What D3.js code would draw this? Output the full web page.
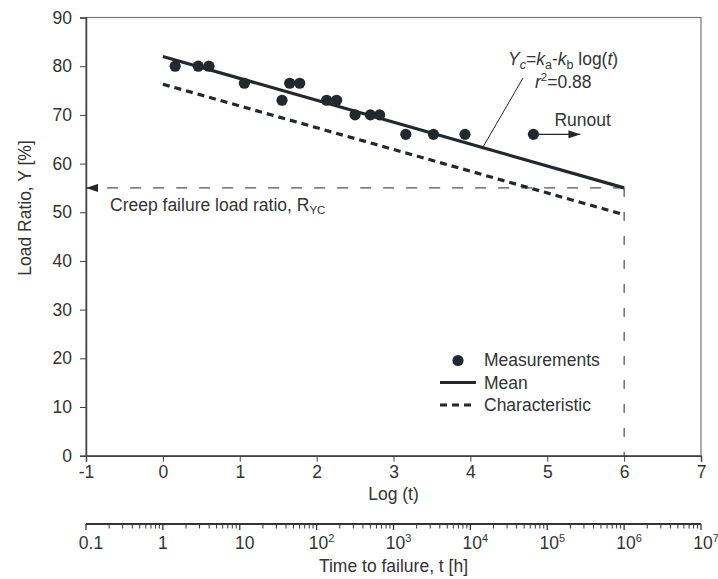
<!DOCTYPE html>
<html>
<head>
	<meta charset="utf-8">
	<script src="https://cdnjs.cloudflare.com/ajax/libs/d3/7.8.5/d3.min.js" charset="utf-8"></script>
	<style>
		body {
		  margin: 0;
		  background: #fff;
		}
		text {
		  font-family: 'Liberation Sans', Arial, sans-serif;
		  font-size: 17.5px;
		  fill: #333;
		}
	</style>
</head>
<body>

	<div id="chart"></div>

<script>

///////////////////////////////////////////////////
////////////////////// Data ///////////////////////
///////////////////////////////////////////////////

//Measured creep tests, x = log10 of time to failure, y = load ratio in %
var logTime   = [0.16, 0.46, 0.60, 1.06, 1.55, 1.65, 1.78, 2.13, 2.26, 2.50, 2.70, 2.82, 3.16, 3.52, 3.93];
var loadRatio = [80, 80, 80, 76.5, 73, 76.5, 76.5, 73, 73, 70, 70, 70, 66, 66, 66];

//Runout specimen (did not fail)
var runoutLogTime = 4.82,
    runoutRatio = 66;

//Regression lines, end points at log(t) = 0 and 6
var fitLogTime = [0, 6];
var meanRatio = [82, 55];
var charRatio = [76.3, 49.5];

//Creep failure load ratio at design life of 10^6 h
var designLogTime = 6,
    creepRatio = 55;

//Axis ticks
var xTicks = [-1, 0, 1, 2, 3, 4, 5, 6, 7];
var yTicks = [0, 10, 20, 30, 40, 50, 60, 70, 80, 90];
var timeDecades = [-1, 0, 1, 2, 3, 4, 5, 6, 7];
var timeLabels = ["0.1", "1", "10", "10|2", "10|3", "10|4", "10|5", "10|6", "10|7"];

var legendItems = ["Measurements", "Mean", "Characteristic"];

///////////////////////////////////////////////////
//////////////// Set the Scales ///////////////////
///////////////////////////////////////////////////

var totalW = 718, totalH = 579;
var plotLeft = 86, plotRight = 701, plotTop = 17.5, plotBottom = 455.7;
var timeAxisY = 524;
var ink = "#23272e";

var x = d3.scaleLinear().domain([-1, 7]).range([plotLeft, plotRight]);
var y = d3.scaleLinear().domain([0, 90]).range([plotBottom, plotTop]);
var xTime = d3.scaleLog().domain([0.1, 1e7]).range([plotLeft, plotRight]);

///////////////////////////////////////////////////
////////////// Initialize the SVG /////////////////
///////////////////////////////////////////////////

var svg = d3.select("#chart")
	.append("svg")
	.attr("width", totalW)
	.attr("height", totalH);

var defs = svg.append("defs");
defs.append("marker")
	.attr("id", "arrowHead")
	.attr("viewBox", "0 0 12 8")
	.attr("refX", 12).attr("refY", 4)
	.attr("markerWidth", 12).attr("markerHeight", 8)
	.attr("markerUnits", "userSpaceOnUse")
	.attr("orient", "auto-start-reverse")
	.append("path")
	.attr("d", "M0,0 L12,4 L0,8 Z")
	.style("fill", ink);

///////////////////////////////////////////////////
//////////////////// Axes /////////////////////////
///////////////////////////////////////////////////

//Frame around the plot
svg.append("rect")
	.attr("x", plotLeft).attr("y", plotTop)
	.attr("width", plotRight - plotLeft)
	.attr("height", plotBottom - plotTop)
	.style("fill", "none")
	.style("stroke", "#777")
	.style("stroke-width", 1.2);

var yAxis = svg.append("g")
	.attr("transform", "translate(" + plotLeft + ",0)")
	.call(d3.axisLeft(y).tickValues(yTicks).tickSize(6).tickPadding(8));

var xAxis = svg.append("g")
	.attr("transform", "translate(0," + plotBottom + ")")
	.call(d3.axisBottom(x).tickValues(xTicks).tickSize(6).tickPadding(4)
		.tickFormat(function(d) { return String(d); }));

[yAxis, xAxis].forEach(function(a) {
	a.select(".domain").style("stroke", "#444").style("stroke-width", 1.5);
	a.selectAll(".tick line").style("stroke", "#444");
	a.selectAll(".tick text")
		.style("font-family", "'Liberation Sans', Arial, sans-serif")
		.style("font-size", "17.5px")
		.style("fill", "#333");
});

svg.append("text")
	.attr("transform", "translate(31,208) rotate(-90)")
	.style("text-anchor", "middle")
	.text("Load Ratio, Y [%]");

svg.append("text")
	.attr("x", x(3))
	.attr("y", 500)
	.style("text-anchor", "middle")
	.text("Log (t)");

//Secondary time axis on log scale
var timeAxis = svg.append("g");

timeAxis.append("line")
	.attr("x1", plotLeft).attr("x2", plotRight)
	.attr("y1", timeAxisY).attr("y2", timeAxisY)
	.style("stroke", "#333")
	.style("stroke-width", 1.8);

var minorTicks = [];
timeDecades.forEach(function(k) {
	if (k === 7) return;
	for (var m = 2; m <= 9; m++) minorTicks.push(m * Math.pow(10, k));
});

timeAxis.selectAll(".minorTick")
	.data(minorTicks)
	.enter().append("line")
	.attr("class", "minorTick")
	.attr("x1", function(d) { return xTime(d); })
	.attr("x2", function(d) { return xTime(d); })
	.attr("y1", timeAxisY)
	.attr("y2", timeAxisY + 4.5)
	.style("stroke", "#333");

timeAxis.selectAll(".majorTick")
	.data(timeDecades)
	.enter().append("line")
	.attr("class", "majorTick")
	.attr("x1", function(d) { return xTime(Math.pow(10, d)); })
	.attr("x2", function(d) { return xTime(Math.pow(10, d)); })
	.attr("y1", timeAxisY)
	.attr("y2", timeAxisY + 6)
	.style("stroke", "#333")
	.style("stroke-width", 1.3);

var timeText = timeAxis.selectAll(".timeLabel")
	.data(timeDecades)
	.enter().append("text")
	.attr("class", "timeLabel")
	.attr("x", function(d) { return xTime(Math.pow(10, d)) + (d === 0 ? 0 : 5); })
	.attr("y", 549)
	.style("text-anchor", "middle");

timeText.each(function(d, i) {
	var parts = timeLabels[i].split("|");
	var t = d3.select(this);
	t.append("tspan").text(parts[0]);
	if (parts[1]) {
		t.append("tspan")
			.attr("dy", -7)
			.style("font-size", "11px")
			.text(parts[1]);
	}
});

svg.append("text")
	.attr("x", x(3))
	.attr("y", 572)
	.style("text-anchor", "middle")
	.text("Time to failure, t [h]");

///////////////////////////////////////////////////
//////////////// Lines and points /////////////////
///////////////////////////////////////////////////

var line = d3.line()
	.x(function(d) { return x(d[0]); })
	.y(function(d) { return y(d[1]); });

//Creep failure load ratio, arrow to the y axis
svg.append("path")
	.attr("d", line([[designLogTime, creepRatio], [-1, creepRatio]]))
	.attr("marker-end", "url(#arrowHead)")
	.style("fill", "none")
	.style("stroke", ink)
	.style("stroke-width", 1)
	.style("stroke-dasharray", "11,12");

svg.append("path")
	.attr("d", line([[designLogTime, creepRatio], [designLogTime, 0]]))
	.style("fill", "none")
	.style("stroke", ink)
	.style("stroke-width", 1)
	.style("stroke-dasharray", "9,15");

svg.append("path")
	.attr("d", line(fitLogTime.map(function(d, i) { return [d, meanRatio[i]]; })))
	.style("fill", "none")
	.style("stroke", ink)
	.style("stroke-width", 3.2);

svg.append("path")
	.attr("d", line(fitLogTime.map(function(d, i) { return [d, charRatio[i]]; })))
	.style("fill", "none")
	.style("stroke", ink)
	.style("stroke-width", 3.2)
	.style("stroke-dasharray", "7,5");

svg.selectAll(".dot")
	.data(logTime.map(function(d, i) { return [d, loadRatio[i]]; }))
	.enter().append("circle")
	.attr("class", "dot")
	.attr("cx", function(d) { return x(d[0]); })
	.attr("cy", function(d) { return y(d[1]); })
	.attr("r", 5.6)
	.style("fill", ink);

//Runout point with its arrow
svg.append("circle")
	.attr("cx", x(runoutLogTime))
	.attr("cy", y(runoutRatio))
	.attr("r", 5.6)
	.style("fill", ink);

svg.append("line")
	.attr("x1", x(runoutLogTime)).attr("y1", y(runoutRatio))
	.attr("x2", x(runoutLogTime) + 47).attr("y2", y(runoutRatio))
	.attr("marker-end", "url(#arrowHead)")
	.style("stroke", ink)
	.style("stroke-width", 1.2);

svg.append("text")
	.attr("x", x(runoutLogTime) + 21)
	.attr("y", 126)
	.text("Runout");

///////////////////////////////////////////////////
///////////////// Annotations /////////////////////
///////////////////////////////////////////////////

var formula = svg.append("text")
	.attr("x", 508)
	.attr("y", 65);
var formulaParts = [
	{t: "Y", italic: true}, {t: "c", italic: true, sub: true}, {t: "="},
	{t: "k", italic: true}, {t: "a", sub: true}, {t: "-"},
	{t: "k", italic: true}, {t: "b", sub: true}, {t: " log("},
	{t: "t", italic: true}, {t: ")"}];
var shifted = false;
formulaParts.forEach(function(p) {
	var s = formula.append("tspan").text(p.t);
	if (p.italic) s.style("font-style", "italic");
	if (p.sub) { s.attr("dy", shifted ? 0 : 4).style("font-size", "12.5px"); shifted = true; }
	else if (shifted) { s.attr("dy", -4); shifted = false; }
});

var rsq = svg.append("text")
	.attr("x", 535)
	.attr("y", 88);
rsq.append("tspan").style("font-style", "italic").text("r");
rsq.append("tspan").attr("dy", -7).style("font-size", "11.5px").text("2");
rsq.append("tspan").attr("dy", 7).text("=0.88");

//Leader from the equation to the mean line
svg.append("line")
	.attr("x1", 523).attr("y1", 78)
	.attr("x2", 483).attr("y2", 147)
	.style("stroke", ink)
	.style("stroke-width", 1);

var creepLabel = svg.append("text")
	.attr("x", 110)
	.attr("y", 211);
creepLabel.append("tspan").text("Creep failure load ratio, R");
creepLabel.append("tspan").attr("dy", 3).style("font-size", "11.5px").text("YC");

///////////////////////////////////////////////////
/////////////////// Legend ////////////////////////
///////////////////////////////////////////////////

var legend = svg.append("g").attr("transform", "translate(440,360)");

legend.append("circle")
	.attr("cx", 18).attr("cy", 0.5).attr("r", 5.6)
	.style("fill", ink);
legend.append("line")
	.attr("x1", 0).attr("x2", 36).attr("y1", 22.5).attr("y2", 22.5)
	.style("stroke", ink).style("stroke-width", 3.2);
legend.append("line")
	.attr("x1", 0).attr("x2", 36).attr("y1", 45).attr("y2", 45)
	.style("stroke", ink).style("stroke-width", 3.2)
	.style("stroke-dasharray", "7,5");

legend.selectAll(".legendText")
	.data(legendItems)
	.enter().append("text")
	.attr("class", "legendText")
	.attr("x", 44)
	.attr("y", function(d, i) { return 6 + i * 22.5; })
	.text(function(d) { return d; });

</script>

</body>
</html>
